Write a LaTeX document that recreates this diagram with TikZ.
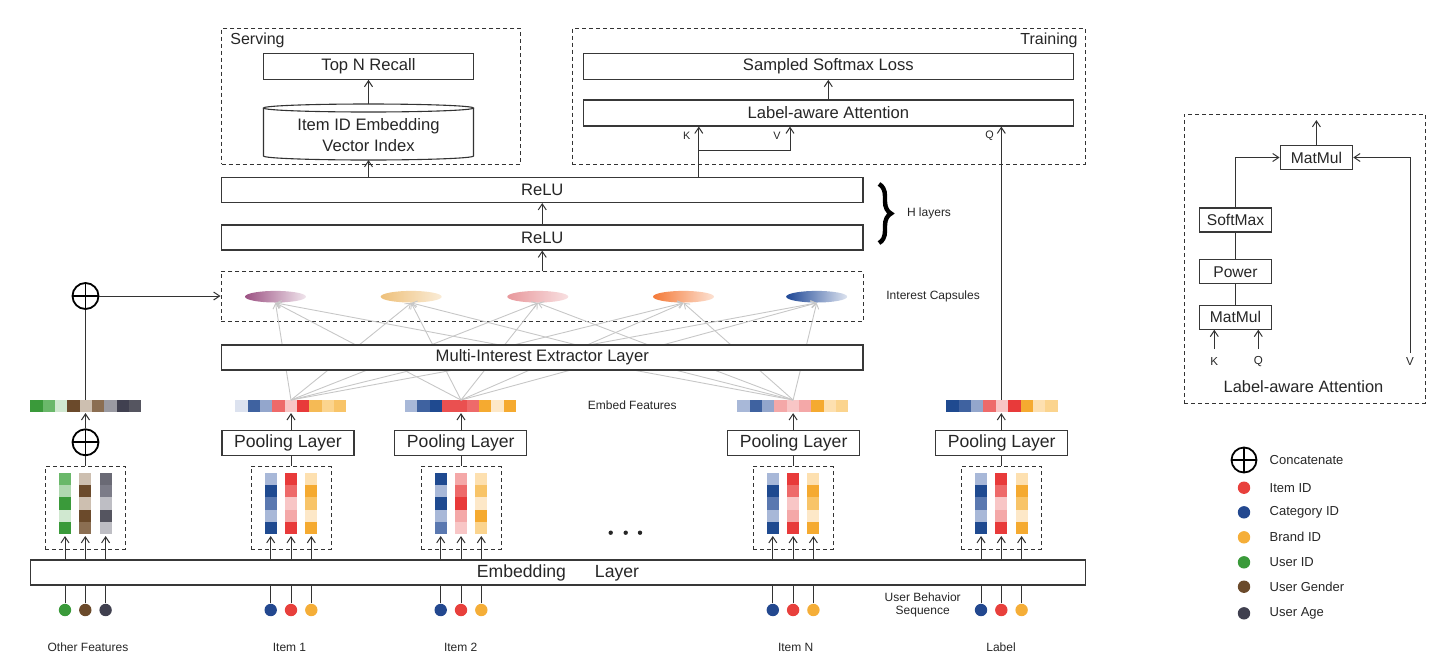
\documentclass[tikz,border=0pt]{standalone}
\usepackage{fontspec}
\setmainfont{Liberation Sans}
\usetikzlibrary{arrows.meta,decorations.pathreplacing,shapes.geometric,calc}
\definecolor{B0}{HTML}{1F4A90}\definecolor{B1}{HTML}{3F62A0}\definecolor{B2}{HTML}{5A78B0}
\definecolor{B3}{HTML}{93A6CC}\definecolor{B4}{HTML}{A8B8D8}\definecolor{B5}{HTML}{DCE2EF}
\definecolor{R0}{HTML}{E83A3A}\definecolor{R1}{HTML}{EA5050}\definecolor{R2}{HTML}{EE6A6A}
\definecolor{R3}{HTML}{F4A8A8}\definecolor{R4}{HTML}{F8C6C6}
\definecolor{Y0}{HTML}{F5AA30}\definecolor{Y1}{HTML}{F5BA55}\definecolor{Y2}{HTML}{F8C468}
\definecolor{Y3}{HTML}{FBD48E}\definecolor{Y4}{HTML}{FDE0B0}\definecolor{Y5}{HTML}{FDE8C8}
\definecolor{G0}{HTML}{3A9A3A}\definecolor{G1}{HTML}{6AB86A}\definecolor{G2}{HTML}{B0D8B0}\definecolor{G3}{HTML}{D0E8D0}
\definecolor{N0}{HTML}{6B4A2B}\definecolor{N1}{HTML}{8B6E52}\definecolor{N2}{HTML}{CDBFB0}
\definecolor{A0}{HTML}{404050}\definecolor{A1}{HTML}{555560}\definecolor{A2}{HTML}{6A6A75}
\definecolor{A3}{HTML}{7C7C88}\definecolor{A4}{HTML}{9A9AA2}\definecolor{A5}{HTML}{BEBEC4}
\definecolor{CP1}{HTML}{9C5283}\definecolor{CP2}{HTML}{EEC07A}\definecolor{CP3}{HTML}{E8989C}
\definecolor{CP4}{HTML}{F47A38}\definecolor{CP5}{HTML}{1E4796}
\definecolor{DR}{HTML}{E8403C}\definecolor{DB}{HTML}{23488F}\definecolor{DY}{HTML}{F5AE38}
\definecolor{DG}{HTML}{3A9A3A}\definecolor{DN}{HTML}{6B4A2B}\definecolor{DA}{HTML}{40404F}
\tikzset{
 box/.style={draw=black!78, line width=0.55pt, inner sep=0pt, text=black!85, font=\fontsize{8.3}{10.3}\selectfont},
 dbox/.style={draw=black!80, dash pattern=on 2pt off 1.5pt, line width=0.5pt, inner sep=0pt},
 arr/.style={draw=black!80, line width=0.5pt, -{Straight Barb[length=3pt,width=4pt]}},
 ln/.style={draw=black!80, line width=0.5pt},
 gl/.style={draw=black!22, line width=0.45pt, -{Straight Barb[length=2.5pt,width=3.5pt]}},
 txt/.style={inner sep=0pt, text=black!85},
 fbig/.style={font=\fontsize{8.3}{10.3}\selectfont},
 fpool/.style={font=\fontsize{8.8}{10}\selectfont},
 fsmall/.style={font=\fontsize{6}{7}\selectfont},
 fleg/.style={font=\fontsize{6.5}{7.5}\selectfont},
 fkqv/.style={font=\fontsize{5.4}{6}\selectfont},
 oplus/.style={circle, draw=black, line width=0.9pt, minimum size=13pt, inner sep=0pt,
   path picture={\draw[line width=0.9pt] (path picture bounding box.north) -- (path picture bounding box.south)
     (path picture bounding box.west) -- (path picture bounding box.east);}},
 dot/.style={circle, inner sep=0pt, minimum size=6.2pt},
 capsule/.style={ellipse, inner sep=0pt, minimum width=30.5pt, minimum height=5.8pt},
}
\newcommand\evec[3]{%
 \node[inner sep=0pt, minimum width=55.5pt, minimum height=6.15pt, anchor=north west] (#1) at (#2,400) {};
 \foreach \cc [count=\ii from 0] in {#3} \fill[\cc] ({#2+\ii*12.35},400) rectangle ++(12.35,12.3);
}
\newcommand\ecol[2]{%
 \foreach \cc [count=\ii from 0] in {#2} \fill[\cc] ({#1-6},{472.7+\ii*12.3}) rectangle ++(12,12.3);
}
\newcommand\grp[8]{%
 \node[dbox, minimum width=40pt, minimum height=41.15pt] (#1box) at ({#2+20.3},507.85) {};
 \ecol{#2}{#6}\ecol{#2+20.3}{#7}\ecol{#2+40.6}{#8}
 \node[dot, fill=#3] (#1a) at (#2,610) {};
 \node[dot, fill=#4] (#1b) at ({#2+20.3},610) {};
 \node[dot, fill=#5] (#1c) at ({#2+40.6},610) {};
 \foreach \dd in {#1a,#1b,#1c}{
   \draw[ln] (\dd.north) -- (\dd.north |- emb.south);
   \draw[arr] (\dd |- emb.north) -- (\dd |- 0,536);
 }
}
\begin{document}
\begin{tikzpicture}[x=0.5pt,y=-0.5pt]
\useasboundingbox (0,0) rectangle (1440,671);

% ---------- Serving
\node[dbox, minimum width=149.5pt, minimum height=67.9pt] (serve) at (371,96.2) {};
\node[txt, font=\fontsize{8}{9}\selectfont, anchor=west] (servelbl) at (230,40) {Serving};
\node[box, minimum width=105pt, minimum height=13pt] (topn) at (368.5,66.3) {Top N Recall};
\node[txt, fbig, align=center] (db) at (368.5,135) {Item ID Embedding\\Vector Index};
\coordinate (dbtop) at (368.5,104);
\coordinate (dbbot) at (368.5,160);
\draw[ln, line width=0.55pt] (263.5,108) -- (263.5,156) arc[start angle=180, end angle=360, x radius=52.5pt, y radius=2pt] -- (473.5,108);
\draw[ln, line width=0.55pt] (368.5,108) ellipse [x radius=52.5pt, y radius=2pt];
\draw[arr] (dbtop) -- (topn.south);

% ---------- Training
\node[dbox, minimum width=256.5pt, minimum height=67.9pt] (train) at (828.5,96.2) {};
\node[txt, font=\fontsize{8}{9}\selectfont, anchor=east] (trainlbl) at (1078,40) {Training};
\node[box, minimum width=244.75pt, minimum height=13pt] (ssl) at (828.3,66.3) {Sampled Softmax Loss};
\node[box, minimum width=244.75pt, minimum height=13pt] (laa) at (828.3,113) {Label-aware Attention};
\draw[arr] (laa.north) -- (ssl.south);
\node[txt, fkqv] (klbl) at (686.7,136) {K};
\node[txt, fkqv] (vlbl) at (777,136) {V};
\node[txt, fkqv] (qlbl) at (989.5,136) {Q};

% ---------- ReLU layers
\node[box, minimum width=320.75pt, minimum height=12.5pt] (relu2) at (542.25,190) {ReLU};
\node[box, minimum width=320.75pt, minimum height=12.5pt] (relu1) at (542.25,237.5) {ReLU};
\draw[arr] (relu1.north) -- (relu2.south);
\draw[arr] (dbbot |- relu2.north) -- (dbbot);
\coordinate (kx) at (698.8,150.7);
\coordinate (vx) at (790,150.7);
\draw[arr] (kx |- relu2.north) -- (kx |- laa.south);
\draw[arr] (kx) -- (vx) -- (vx |- laa.south);
\draw[decorate, decoration={brace, amplitude=6pt}, line width=2.2pt] (879,184) -- (879,243);
\node[txt, fsmall] (hl) at (929,213) {H layers};

% ---------- Interest capsules
\node[dbox, minimum width=321.25pt, minimum height=24.65pt] (caps) at (542.25,296.4) {};
\node[capsule, left color=CP1, right color=CP1!15] (cap1) at (275.5,296.7) {};
\node[capsule, left color=CP2, right color=CP2!30] (cap2) at (411.2,296.7) {};
\node[capsule, left color=CP3, right color=CP3!30] (cap3) at (537.8,296.7) {};
\node[capsule, left color=CP4, right color=CP4!22] (cap4) at (683.5,296.7) {};
\node[capsule, left color=CP5, right color=CP5!15] (cap5) at (816.7,296.7) {};
\node[txt, fsmall, anchor=west] (capslbl) at (886,296) {Interest Capsules};
\draw[arr] (caps.north) -- (relu1.south);

% ---------- Embedding layer
\node[box, fpool, minimum width=527.65pt, minimum height=12.5pt] (emb) at (558,572.5) {Embedding\hspace{14.5pt}Layer};

% ---------- groups
\grp{o}{65}{DG}{DN}{DA}{G1,G2,G0,G3,G0}{N2,N0,N2,N0,N1}{A2,A3,A5,A1,A5}
\grp{i}{270.7}{DB}{DR}{DY}{B4,B0,B2,B4,B0}{R0,R2,R4,R3,R0}{Y4,Y0,Y2,Y5,Y0}
\grp{j}{440.7}{DB}{DR}{DY}{B0,B4,B0,B4,B2}{R3,R2,R0,R3,R4}{Y4,Y2,Y5,Y0,Y3}
\grp{n}{772.8}{DB}{DR}{DY}{B4,B0,B2,B4,B0}{R0,R2,R4,R3,R0}{Y4,Y0,Y2,Y5,Y0}
\grp{l}{981}{DB}{DR}{DY}{B4,B0,B2,B4,B0}{R0,R2,R4,R3,R0}{Y4,Y0,Y2,Y5,Y0}

% ---------- embed feature vectors
\evec{v0}{30.3}{G0,G1,G3,N0,N2,N1,A4,A0,A1}
\evec{v1}{235.2}{B5,B1,B3,R2,R4,R0,Y1,Y3,Y2}
\evec{v2}{405}{B4,B1,B0,R1,R1,R2,Y0,Y5,Y0}
\evec{vN}{737.3}{B4,B1,B3,R3,R4,R3,Y0,Y4,Y3}
\evec{vL}{946.4}{B0,B1,B3,R2,R4,R0,Y0,Y4,Y3}
\node[txt, fsmall, anchor=west] (eflbl) at (587.5,405.7) {Embed Features};

% ---------- pooling layers
\node[box, fpool, minimum width=66pt, minimum height=12.5pt] (pool1) at (288,443.2) {Pooling Layer};
\node[box, fpool, minimum width=66pt, minimum height=12.5pt] (pool2) at (460.8,443.2) {Pooling Layer};
\node[box, fpool, minimum width=66pt, minimum height=12.5pt] (poolN) at (793.6,443.2) {Pooling Layer};
\node[box, fpool, minimum width=66pt, minimum height=12.5pt] (poolL) at (1001.7,443.2) {Pooling Layer};
\draw[ln] (ibox.north) -- (ibox.north |- pool1.south);
\draw[ln] (jbox.north) -- (jbox.north |- pool2.south);
\draw[ln] (nbox.north) -- (nbox.north |- poolN.south);
\draw[ln] (lbox.north) -- (lbox.north |- poolL.south);
\draw[arr] (ibox.north |- pool1.north) -- (ibox.north |- v1.south);
\draw[arr] (jbox.north |- pool2.north) -- (jbox.north |- v2.south);
\draw[arr] (nbox.north |- poolN.north) -- (nbox.north |- vN.south);
\draw[arr] (lbox.north |- poolL.north) -- (lbox.north |- vL.south);
\draw[arr] (lbox.north |- vL.north) -- (lbox.north |- laa.south);

% ---------- other features concatenation
\node[oplus] (cat2) at (85.5,442.3) {};
\node[oplus] (cat1) at (85.5,296) {};
\draw[ln] (obox.north) -- (obox.north |- cat2.south);
\draw[arr] (cat2.north) -- (cat2.north |- v0.south);
\draw[ln] (cat1.south) -- (cat1.south |- v0.north);
\draw[arr] (cat1.east) -- (cat1.east -| caps.west);

% ---------- grey capsule links
\foreach \src in {ibox,jbox,nbox}
  \foreach \tgt in {cap1,cap2,cap3,cap4,cap5}
    \draw[gl] (\src.north |- v1.north) -- (\tgt.south);
\node[box, fill=white, minimum width=320.75pt, minimum height=12.5pt] (mie) at (542.25,357.5) {Multi-Interest Extractor Layer};

% ---------- ellipsis dots
\foreach \xx [count=\k] in {610.7,625.7,640}
  \node[circle, fill=black!85, inner sep=0pt, minimum size=2.2pt] (ell\k) at (\xx,532.7) {};

% ---------- bottom labels
\node[txt, fsmall] (lo) at (88,647) {Other Features};
\node[txt, fsmall] (li1) at (289.5,647) {Item 1};
\node[txt, fsmall] (li2) at (460.7,647) {Item 2};
\node[txt, fsmall] (liN) at (795.7,647) {Item N};
\node[txt, fsmall] (lL) at (1001,647) {Label};
\node[txt, fsmall, align=center] (ubs) at (922.7,605) {User Behavior\\[-0.6pt]Sequence};

% ---------- side panel: label-aware attention
\node[dbox, minimum width=120.5pt, minimum height=144.5pt] (side) at (1304.5,258.5) {};
\node[box, font=\fontsize{7.8}{9}\selectfont, minimum width=36.3pt, minimum height=12pt] (mm1) at (1316.4,157.5) {MatMul};
\node[box, font=\fontsize{7.8}{9}\selectfont, minimum width=36.2pt, minimum height=12pt] (sm) at (1235.5,220) {SoftMax};
\node[box, font=\fontsize{7.8}{9}\selectfont, minimum width=36.2pt, minimum height=12pt] (pw) at (1235.5,271.8) {Power};
\node[box, font=\fontsize{7.8}{9}\selectfont, minimum width=36.2pt, minimum height=12pt] (mm2) at (1235.5,317.2) {MatMul};
\coordinate (mmout) at (1316.4,120);
\draw[arr] (mm1.north) -- (mmout);
\draw[arr] (sm.north) |- (mm1.west);
\draw[ln] (pw.north) -- (sm.south);
\draw[ln] (mm2.north) -- (pw.south);
\coordinate (kin) at (1214.3,349);
\coordinate (qin) at (1258.3,349);
\coordinate (vin) at (1410,353);
\draw[arr] (kin) -- (kin |- mm2.south);
\draw[arr] (qin) -- (qin |- mm2.south);
\draw[arr] (vin) |- (mm1.east);
\node[txt, font=\fontsize{5.8}{7}\selectfont] (sk) at (1214.3,361.7) {K};
\node[txt, font=\fontsize{5.8}{7}\selectfont] (sq) at (1258.3,361.7) {Q};
\node[txt, font=\fontsize{5.8}{7}\selectfont] (sv) at (1410,361.7) {V};
\node[txt, font=\fontsize{8.2}{9}\selectfont] (sidelbl) at (1303.5,386.7) {Label-aware Attention};

% ---------- legend
\node[oplus, minimum size=12.5pt] (lgcat) at (1244,460) {};
\node[txt, fleg, anchor=west] (lgcatt) at (1269.3,460) {Concatenate};
\foreach \cc/\yy/\tx/\nm in {DR/487.7/Item ID/lg1, DB/512.3/Category ID/lg2, DY/537.3/Brand ID/lg3,
   DG/562.3/User ID/lg4, DN/586.7/User Gender/lg5, DA/613.3/User Age/lg6}{
  \node[dot, fill=\cc] (\nm) at (1244,\yy) {};
  \node[txt, fleg, anchor=west] (\nm t) at (1269.3,\yy) {\tx};
}
\end{tikzpicture}
\end{document}
